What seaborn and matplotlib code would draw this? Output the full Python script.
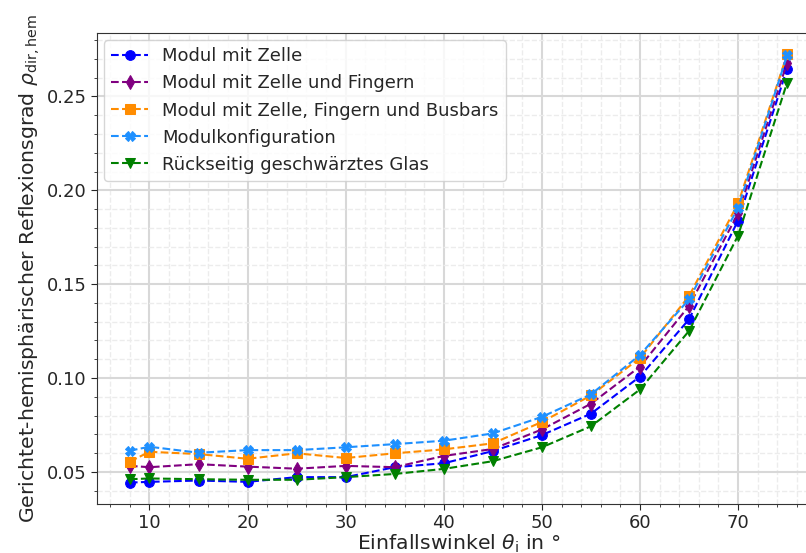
import numpy as np
import pandas as pd
import matplotlib
matplotlib.use("Agg")
import matplotlib.pyplot as plt
import seaborn as sns
from matplotlib.ticker import MultipleLocator

angles = [8, 10, 15, 20, 25, 30, 35, 40, 45, 50, 55, 60, 65, 70, 75]
modul_zelle = [0.0443, 0.0447, 0.0454, 0.0447, 0.0472, 0.0472, 0.0525, 0.0546, 0.0611,
               0.0696, 0.0810, 0.1008, 0.1313, 0.1839, 0.2648]
modul_finger = [0.0532, 0.0525, 0.0541, 0.0528, 0.0517, 0.0532, 0.0525, 0.0585, 0.0622,
                0.0726, 0.0863, 0.1061, 0.1384, 0.1877, 0.2680]
modul_busbars = [0.0555, 0.0607, 0.0595, 0.0570, 0.0599, 0.0574, 0.0599, 0.0620, 0.0652,
                 0.0766, 0.0907, 0.1107, 0.1437, 0.1930, 0.2724]
modulkonfig = [0.0613, 0.0634, 0.0602, 0.0616, 0.0616, 0.0631, 0.0648, 0.0666, 0.0705,
               0.0793, 0.0913, 0.1123, 0.1419, 0.1907, 0.2719]
glas = [0.0461, 0.0465, 0.0461, 0.0458, 0.0458, 0.0472, 0.0489, 0.0516, 0.0557,
        0.0631, 0.0743, 0.0939, 0.1251, 0.1759, 0.2574]

labels = ["Modul mit Zelle", "Modul mit Zelle und Fingern",
          "Modul mit Zelle, Fingern und Busbars", "Modulkonfiguration",
          "Rückseitig geschwärztes Glas"]
series = [modul_zelle, modul_finger, modul_busbars, modulkonfig, glas]
colors = ["blue", "purple", "darkorange", "dodgerblue", "green"]
markers = ["o", "d", "s", "X", "v"]

sns.set_style("ticks")
plt.rcParams['font.family'] = ['DejaVu Sans']

fig = plt.figure(figsize=(8.06, 5.53), dpi=100)
ax = fig.add_axes([97/806, 49/553, (820-97)/806, (504-33)/553])

for lab, vals, c, m in zip(labels, series, colors, markers):
    df = pd.DataFrame({"x": angles, "y": vals})
    sns.lineplot(data=df, x="x", y="y", ax=ax, color=c, marker=m, linestyle="--",
                 markersize=7, markeredgecolor=c, label=lab, linewidth=1.5)

ax.xaxis.set_minor_locator(MultipleLocator(2))
ax.yaxis.set_minor_locator(MultipleLocator(0.01))
ax.grid(which="major", color="#d8d8d8", linewidth=1.5, linestyle="-")
ax.grid(which="minor", color="#ececec", linewidth=1.0, linestyle="--")
ax.set_axisbelow(True)
ax.margins(x=0.05, y=0.05)
ax.tick_params(axis="both", which="major", labelsize=13, length=4)
ax.tick_params(axis="both", which="minor", length=2)
ax.set_xlabel(r"Einfallswinkel $\theta_\mathrm{i}$ in °", fontsize=14.7, labelpad=0)
ax.set_ylabel(r"Gerichtet-hemisphärischer Reflexionsgrad $\rho_\mathrm{dir,hem}$",
              fontsize=14.7, labelpad=3)
ax.set_yticks([0.05, 0.10, 0.15, 0.20, 0.25])
for s in ax.spines.values():
    s.set_color("#333333")
ax.legend(loc="upper left", fontsize=13, framealpha=0.8, borderaxespad=0.4)

fig.savefig("out.png", dpi=100)
